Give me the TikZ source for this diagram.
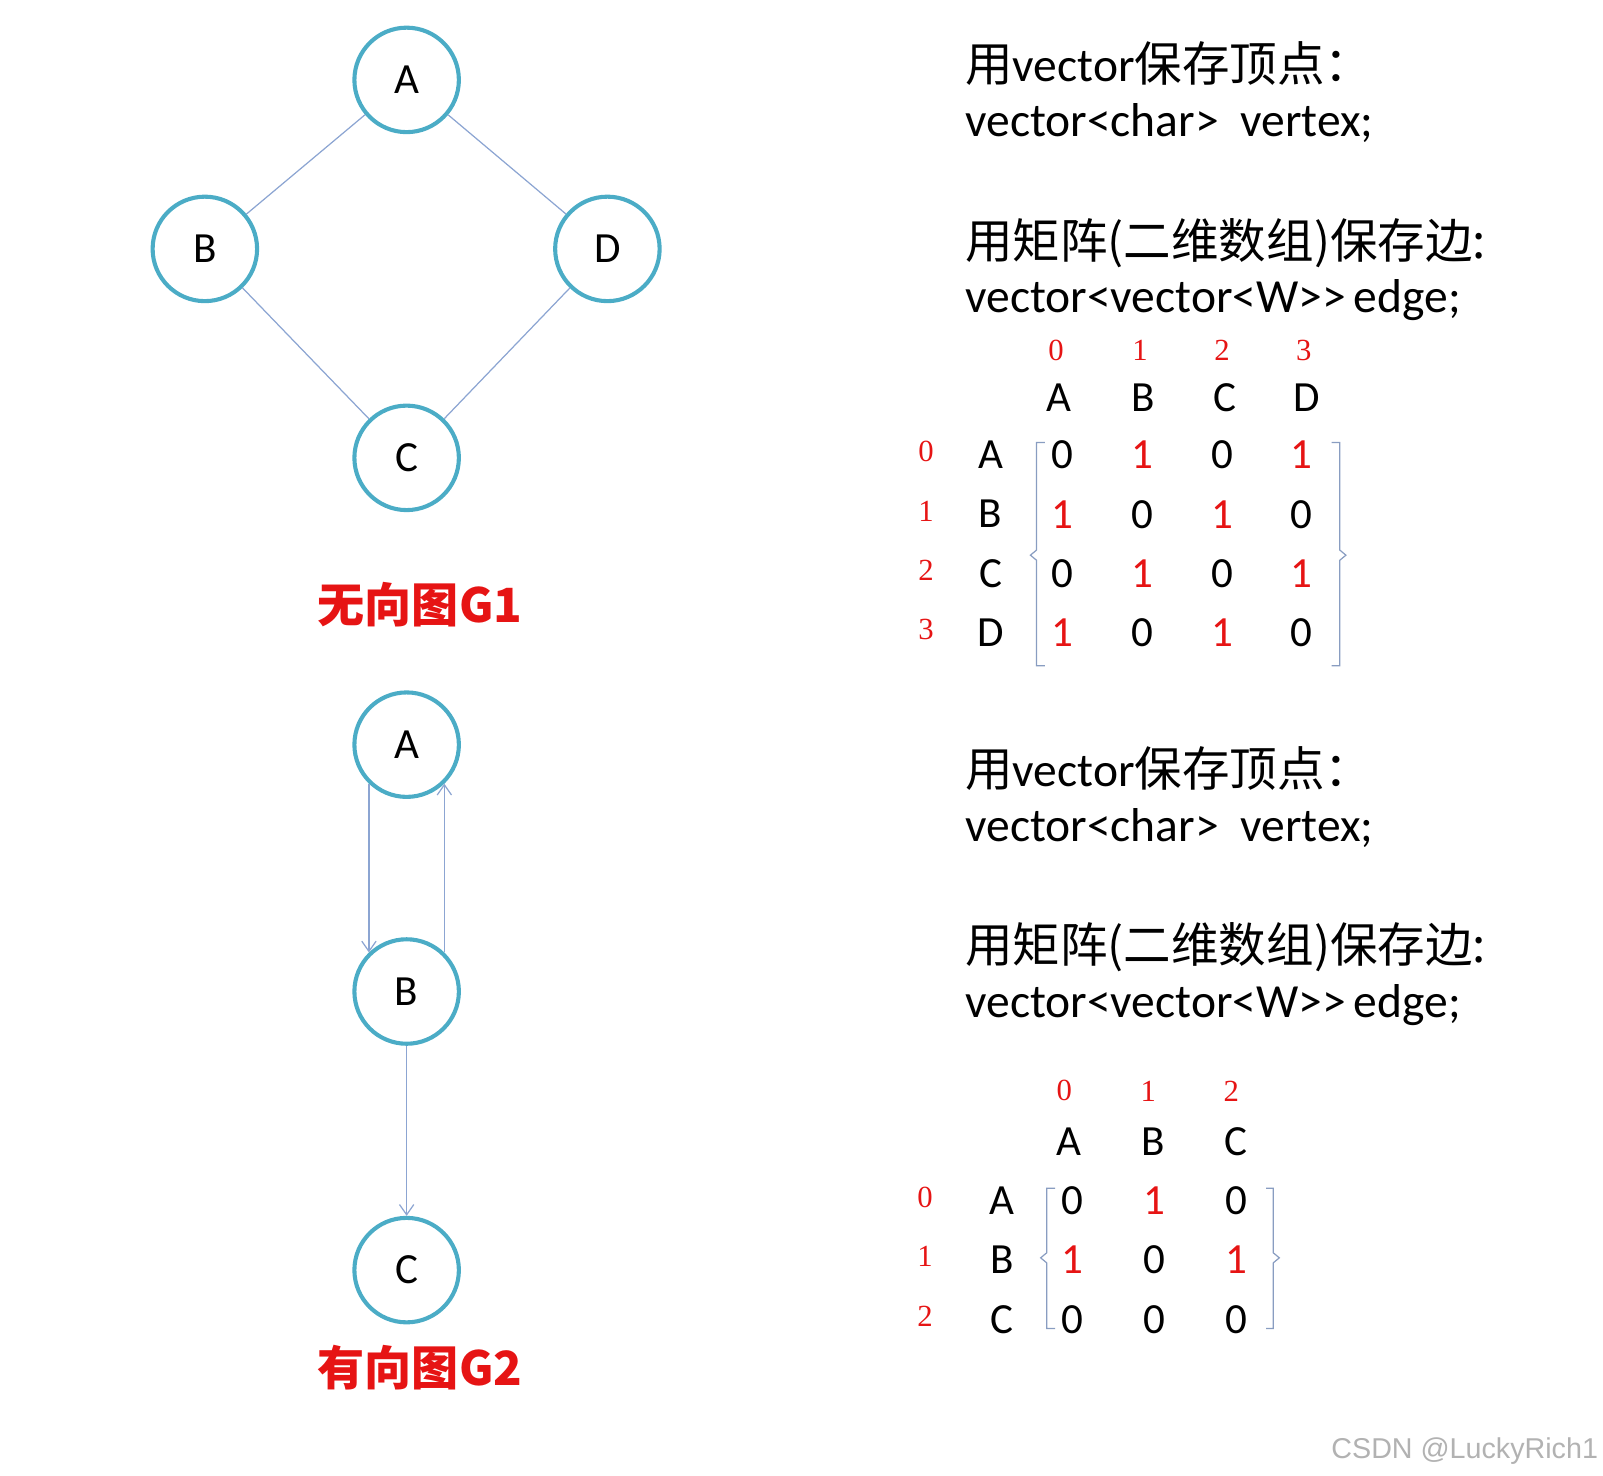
\documentclass[tikz,border=0pt]{standalone}
\usepackage{fontspec}
\setmainfont{Carlito}
\newfontfamily\cjk{Noto Sans CJK SC}
\newfontfamily\idxf{Liberation Serif}
\newfontfamily\wmf{Liberation Sans}
\usetikzlibrary{arrows.meta}
\definecolor{ring}{RGB}{75,172,198}
\definecolor{edgec}{RGB}{140,165,210}
\definecolor{bred}{RGB}{230,20,20}
\begin{document}
\begin{tikzpicture}[x=0.5pt,y=-0.5pt,
  vtx/.style={circle,draw=ring,line width=2pt,minimum size=51pt,inner sep=0pt,font=\fontsize{21}{24}\selectfont},
  con/.style={draw=edgec,line width=0.6pt},
  arr/.style={con,-{Straight Barb[length=5pt,width=7pt]}},
  txt/.style={anchor=west,font=\fontsize{23.2}{26}\selectfont,inner sep=0pt},
  mt/.style={font=\fontsize{21}{24}\selectfont,inner sep=0pt},
  one/.style={mt,text=bred},
  idx/.style={font=\idxf\fontsize{15}{18}\selectfont,text=bred,inner sep=0pt},
  ttl/.style={font=\cjk\bfseries\fontsize{23}{28}\selectfont,text=bred},
  brk/.style={draw=edgec!80!gray,line width=0.6pt}]
\useasboundingbox (0,0) rectangle (1565,1441);
% G1
\node[vtx] (A) at (397,78) {A};
\node[vtx] (B) at (200,243) {B};
\node[vtx] (D) at (593,243) {D};
\node[vtx] (C) at (397,447) {C};
\draw[con] (A)--(B); \draw[con] (A)--(D); \draw[con] (B)--(C); \draw[con] (D)--(C);
\node[ttl] (t1) at (410,590) {无向图G1};
% G2
\node[vtx] (A2) at (397,727) {A};
\node[vtx] (B2) at (397,968) {B};
\node[vtx] (C2) at (397,1240) {C};
\draw[arr] (A2.-134) -- (B2.134);
\draw[arr] (B2.46) -- (A2.-46);
\draw[arr] (B2) -- (C2);
\node[ttl] (t2) at (410,1335) {有向图G2};
% texts
\foreach \y/\n in {0/a,688/b}{
 \node[txt] (s1\n) at (942,62+\y) {{\cjk 用}vector{\cjk 保存顶点：}};
 \node[txt] (s2\n) at (942,120+\y) {vector<char>\ \ vertex;};
 \node[txt] (s3\n) at (942,237+\y) {{\cjk 用矩阵(二维数组)保存边:}};
 \node[txt] (s4\n) at (942,293+\y) {vector<vector<W>{}>\,edge;};
}
% matrix 1
\foreach \x/\t/\i in {1034/A/0,1116/B/1,1196/C/2,1276/D/3}{
 \node[idx] at (\x-3,342) {\i};
 \node[mt] at (\x,388) {\t};}
\foreach \y/\t/\i in {444/A/0,502/B/1,560/C/2,618/D/3}{
 \node[idx] at (904,\y-3) {\i};
 \node[mt] at (967,\y) {\t};}
\foreach \r [count=\ry from 0] in {{0,1,0,1},{1,0,1,0},{0,1,0,1},{1,0,1,0}}{
 \foreach \v [count=\cx from 0] in \r {
  \ifnum\v=1 \node[one] at (1037+78*\cx,444+58*\ry) {1};
  \else \node[mt] at (1037+78*\cx,444+58*\ry) {0};\fi}}
\draw[brk] (1020,432)--(1012,432)--(1012,537)--(1006,542)--(1012,547)--(1012,650)--(1020,650);
\draw[brk] (1300,432)--(1308,432)--(1308,537)--(1314,542)--(1308,547)--(1308,650)--(1300,650);
% matrix 2
\foreach \x/\t/\i in {1044/A/0,1126/B/1,1207/C/2}{
 \node[idx] at (\x-5,1065) {\i};
 \node[mt] at (\x,1115) {\t};}
\foreach \y/\t/\i in {1172/A/0,1230/B/1,1288/C/2}{
 \node[idx] at (903,\y-3) {\i};
 \node[mt] at (978,\y) {\t};}
\foreach \r [count=\ry from 0] in {{0,1,0},{1,0,1},{0,0,0}}{
 \foreach \v [count=\cx from 0] in \r {
  \ifnum\v=1 \node[one] at (1047+80*\cx,1172+58*\ry) {1};
  \else \node[mt] at (1047+80*\cx,1172+58*\ry) {0};\fi}}
\draw[brk] (1030,1160)--(1022,1160)--(1022,1223)--(1016,1228)--(1022,1233)--(1022,1297)--(1030,1297);
\draw[brk] (1236,1160)--(1243,1160)--(1243,1223)--(1249,1228)--(1243,1233)--(1243,1297)--(1236,1297);
\node[font=\wmf\fontsize{14}{16}\selectfont,text=gray!60] (wm) at (1430,1417) {CSDN @LuckyRich1};
\end{tikzpicture}
\end{document}
